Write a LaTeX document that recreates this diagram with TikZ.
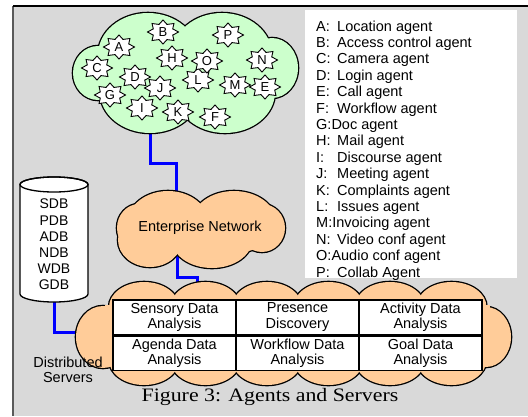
\documentclass[tikz,border=0pt]{standalone}
\usepackage{fontspec}
\setmainfont{Liberation Sans}
\newfontfamily\capfont{Liberation Serif}
\definecolor{cloudgreen}{RGB}{204,255,204}
\definecolor{peach}{RGB}{255,204,153}
\definecolor{bggray}{RGB}{217,217,217}
\definecolor{linkblue}{RGB}{0,0,255}
\definecolor{edgegray}{RGB}{90,90,90}
\newcommand\cloudunion[2]{%
  \foreach \cx/\cy/\rx/\ry in {#2} {\draw[black, line width=2.6] (\cx,\cy) ellipse[x radius=\rx, y radius=\ry];}
  \foreach \cx/\cy/\rx/\ry in {#2} {\fill[#1] (\cx,\cy) ellipse[x radius=\rx, y radius=\ry];}
}
\newcommand\agentstar[3]{%
  \filldraw[fill=white, draw=black, line width=0.9]
    plot[samples at={0,...,15}, variable=\k]
    ({#2+ifthenelse(mod(\k,2)==0,15.5,10.5)*cos(90+22.5*\k)},
     {#3+ifthenelse(mod(\k,2)==0,12,8.2)*sin(90+22.5*\k)}) -- cycle;
  \node[starlbl] (s#1) at (#2,#3) {#1};
}
\begin{document}
\begin{tikzpicture}[x=1pt,y=-1pt,
  link/.style={draw=linkblue, line width=3},
  starlbl/.style={inner sep=0, font=\fontsize{13}{13}\selectfont},
  lgtext/.style={anchor=base west, inner sep=0, font=\fontsize{14.5}{16}\selectfont},
  cellbox/.style={draw=black, fill=white, line width=1.3, minimum width=123, minimum height=34.5,
                  inner sep=0, align=center, font=\fontsize{14.5}{15.5}\selectfont},
  plain/.style={inner sep=0, align=center, font=\fontsize{14.5}{15}\selectfont}]
\useasboundingbox (0,0) rectangle (528,416);
% background frame
\fill[bggray] (13,6) rectangle (528,416);
\draw[edgegray, line width=1.5] (13,6) -- (13,416);
\draw[black, line width=1.5] (13,6) -- (528,6);

% legend box
\node[fill=white, minimum width=212, minimum height=268, inner sep=0] (legend) at (411,144) {};
\foreach \l/\t/\i in {A/Location agent/0, B/Access control agent/1, C/Camera agent/2,
   D/Login agent/3, E/Call agent/4, F/Workflow agent/5, H/Mail agent/7, I/Discourse agent/8,
   J/Meeting agent/9, K/Complaints agent/10, L/Issues agent/11, N/Video conf agent/13,
   P/Collab Agent/15}
  { \node[lgtext] (key\l) at (316,{31+16.4*\i}) {\l:};
    \node[lgtext] (txt\l) at (337,{31+16.4*\i}) {\t}; }
\node[lgtext] (keyG) at (316,{31+16.4*6}) {G:Doc agent};
\node[lgtext] (keyM) at (316,{31+16.4*12}) {M:Invoicing agent};
\node[lgtext] (keyO) at (316,{31+16.4*14}) {O:Audio conf agent};

% ports
\coordinate (agentsOut) at (150,128);
\coordinate (netIn) at (176,196);
\coordinate (netOut) at (177,250);
\coordinate (srvIn) at (197,290);
\coordinate (dbOut) at (54,296);
\coordinate (srvWest) at (82,332);

% connectors (under the shapes)
\draw[link] (agentsOut) -- ++(0,35) -| (netIn);
\draw[link] (netOut) -- ++(0,27) -| (srvIn);
\draw[link] (dbOut) |- (srvWest);

% agents cloud
\cloudunion{cloudgreen}{148/55/50/42, 222/55/50/42, 150/92/50/41, 225/92/50/41, 98/73/25/27, 272/68/26/30}
\node[minimum width=225, minimum height=122, inner sep=0] (agents) at (185.5,74) {};
\agentstar{A}{119}{47}
\agentstar{B}{163}{32}
\agentstar{C}{97}{68}
\agentstar{D}{135}{77}
\agentstar{G}{110}{95}
\agentstar{H}{172}{58}
\agentstar{I}{142}{108}
\agentstar{J}{160}{88}
\agentstar{K}{178}{112}
\agentstar{F}{215}{117}
\agentstar{L}{198}{80}
\agentstar{O}{207}{61}
\agentstar{P}{228}{35}
\agentstar{N}{262}{60}
\agentstar{M}{235}{85}
\agentstar{E}{265}{87}

% enterprise network cloud
\cloudunion{peach}{168/222/40/31, 234/222/42/31, 150/240/32/27, 212/240/40/28, 139/228/22/24, 262/228/23/24}
\node[plain] (net) at (200,228) {Enterprise Network};

% servers cloud
\cloudunion{peach}{144/307/35/25, 205.5/307/35/25, 267/307/35/25, 328.5/307/35/25, 390/307/35/25, 451.5/307/35/25,
  144/360/35/25, 205.5/360/35/25, 267/360/35/25, 328.5/360/35/25, 390/360/35/25, 451.5/360/35/25,
  103/337/27/31, 486/337/25/30}
\fill[peach] (105,305) rectangle (490,365);
\node[minimum width=436, minimum height=102, inner sep=0] (srv) at (294,334) {};
\node[cellbox] (c11) at (174.5,317.2) {Sensory Data\\Analysis};
\node[cellbox] (c12) at (297.5,317.2) {Presence\\Discovery};
\node[cellbox] (c13) at (420.5,317.2) {Activity Data\\Analysis};
\node[cellbox] (c21) at (174.5,353.2) {Agenda Data\\Analysis};
\node[cellbox] (c22) at (297.5,353.2) {Workflow Data\\Analysis};
\node[cellbox] (c23) at (420.5,353.2) {Goal Data\\Analysis};
\node[plain] (distlbl) at (68,369.5) {Distributed\\Servers};

% database cylinder
\filldraw[fill=white, draw=black, line width=1.3] (20,184.5) -- (20,294)
   arc[start angle=180, end angle=0, x radius=34, y radius=8] -- (88,184.5)
   arc[start angle=0, end angle=-180, x radius=34, y radius=7.5] -- cycle;
\draw[black, line width=1.3] (54,184.5) ellipse[x radius=34, y radius=7.5];
\node[inner sep=0, align=center, font=\fontsize{14}{16.2}\selectfont] (db) at (54,244.5)
   {SDB\\PDB\\ADB\\NDB\\WDB\\GDB};

% caption
\node[anchor=base, inner sep=0, font=\capfont\fontsize{19}{20}\selectfont] (caption) at (270,401)
   {\scalebox{1.15}[1]{Figure 3: Agents and Servers}};
\end{tikzpicture}
\end{document}
